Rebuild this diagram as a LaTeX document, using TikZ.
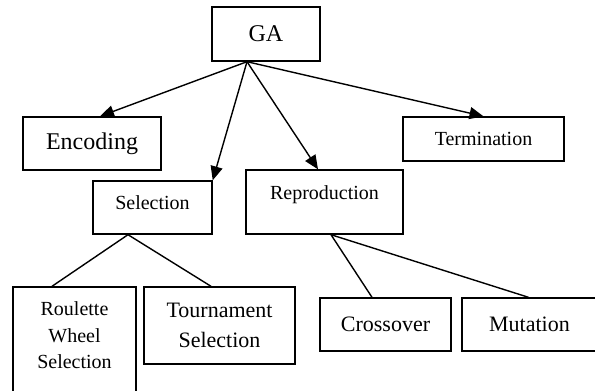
\documentclass[tikz,border=0pt]{standalone}
\usepackage{fontspec}
\setmainfont{Liberation Serif}
\usetikzlibrary{arrows.meta, positioning}

\tikzset{
	box/.style={draw, line width=1.4pt, inner sep=0pt, align=center},
	big/.style={font=\fontsize{24}{28}\selectfont},
	mid/.style={font=\fontsize{22}{30}\selectfont},
	small/.style={font=\fontsize{20}{26.5}\selectfont},
	link/.style={line width=1.4pt},
	arr/.style={line width=1.4pt, -{Triangle[length=14pt,width=12pt]}}
}

\begin{document}
\begin{tikzpicture}[x=1pt, y=-1pt]
	\useasboundingbox (0,0) rectangle (595,391);

	% top
	\node[box, big, minimum width=108pt, minimum height=54pt] (ga) at (266,34) {GA};

	% second row
	\node[box, big, minimum width=138pt, minimum height=53pt] (enc) at (92,143.5) {Encoding};
	\node[box, small, minimum width=119pt, minimum height=53pt, text depth=9.6pt] (sel) at (152.5,207.5) {Selection};
	\node[box, small, minimum width=157pt, minimum height=64pt, text depth=18.6pt] (rep) at (324.5,202) {Reproduction};
	\node[box, small, minimum width=161pt, minimum height=44pt] (term) at (483.5,139) {Termination};

	% bottom row
	\node[box, small, minimum width=123pt, minimum height=110pt, text depth=13pt] (roul) at (74.5,342) {Roulette\\Wheel\\Selection};
	\node[box, mid, minimum width=151pt, minimum height=77pt] (tour) at (219.5,325.5) {Tournament\\Selection};
	\node[box, mid, minimum width=131pt, minimum height=53pt] (cross) at (385.5,324.5) {Crossover};
	\node[box, mid, minimum width=135pt, minimum height=53pt] (mut) at (529.5,324.5) {Mutation};

	\draw[arr] ([xshift=-19pt]ga.south) -- ([xshift=8pt]enc.north);
	\draw[arr] ([xshift=-19pt]ga.south) -- (sel.north east);
	\draw[arr] ([xshift=-19pt]ga.south) -- ([xshift=-6.5pt]rep.north);
	\draw[arr] ([xshift=-19pt]ga.south) -- (term.north);

	\draw[link] ([xshift=-24.5pt]sel.south) -- ([xshift=-22.5pt]roul.north);
	\draw[link] ([xshift=-24.5pt]sel.south) -- ([xshift=-8.5pt]tour.north);
	\draw[link] ([xshift=6.5pt]rep.south) -- ([xshift=-13.5pt]cross.north);
	\draw[link] ([xshift=6.5pt]rep.south) -- ([xshift=-1pt]mut.north);
\end{tikzpicture}
\end{document}
